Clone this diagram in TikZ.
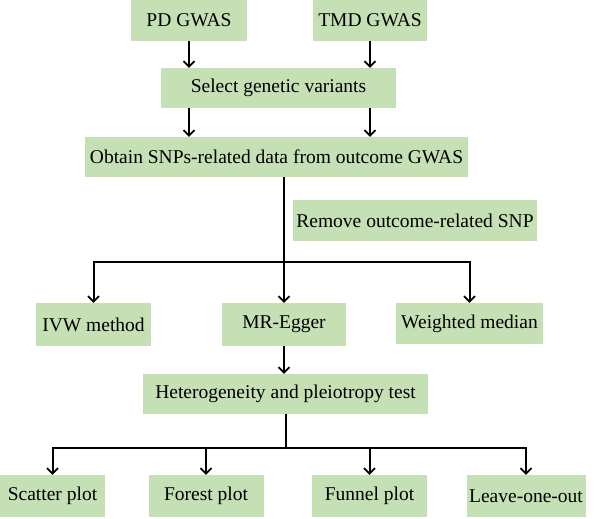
\documentclass[tikz,border=0pt]{standalone}
\usepackage{fontspec}
\setmainfont{Liberation Serif}
\usetikzlibrary{arrows.meta}
\definecolor{boxgreen}{RGB}{197,224,180}
\begin{document}
\begin{tikzpicture}[x=1pt,y=-1pt,
  box/.style={fill=boxgreen,draw=none,inner sep=0pt,align=center,
    font=\rmfamily\fontsize{19.5}{22}\selectfont},
  conn/.style={line width=2pt,black},
  arr/.style={conn,-{Straight Barb[length=5.5pt,width=11pt,line width=1.8pt]}}]
\useasboundingbox (0,0) rectangle (595,519);
\node[box,minimum width=116pt,minimum height=41pt] (pd) at (189,20.5) {PD GWAS};
\node[box,minimum width=114pt,minimum height=41pt] (tmd) at (370,20.5) {TMD GWAS};
\node[box,minimum width=235pt,minimum height=40pt] (sel) at (278.5,88) {Select genetic variants};
\node[box,minimum width=383pt,minimum height=40pt] (obt) at (276.5,157) {Obtain SNPs-related data from outcome GWAS};
\node[box,minimum width=244pt,minimum height=41pt] (rem) at (415,220.5) {Remove outcome-related SNP};
\node[box,minimum width=115pt,minimum height=43pt] (ivw) at (93.5,324.5) {IVW method};
\node[box,minimum width=124pt,minimum height=43pt] (mre) at (284,324.5) {MR-Egger};
\node[box,minimum width=147pt,minimum height=41pt] (wm) at (469.5,323.5) {Weighted median};
\node[box,minimum width=285pt,minimum height=40pt] (het) at (285.5,394) {Heterogeneity and pleiotropy test};
\node[box,minimum width=105pt,minimum height=42pt] (sc) at (52.5,496) {Scatter plot};
\node[box,minimum width=115pt,minimum height=42pt] (fo) at (206,496) {Forest plot};
\node[box,minimum width=115pt,minimum height=42pt] (fu) at (369.5,496) {Funnel plot};
\node[box,minimum width=119pt,minimum height=42pt] (lo) at (526,496) {Leave-one-out};
% top arrows
\draw[arr] (pd.south) -- (sel.north -| pd);
\draw[arr] (tmd.south) -- (sel.north -| tmd);
\draw[arr] (sel.south -| pd) -- (obt.north -| pd);
\draw[arr] (sel.south -| tmd) -- (obt.north -| tmd);
% middle split
\coordinate (j1) at (284,262);
\draw[arr] (obt.south -| mre) -- (mre.north);
\draw[arr] (j1) -| (ivw.north);
\draw[arr] (j1) -| (wm.north);
\draw[arr] (mre.south) -- (het.north -| mre);
% bottom split
\coordinate (j2) at (het.south |- 0,448);
\draw[conn] (het.south) -- (j2);
\draw[arr] (j2) -| (sc.north);
\draw[arr] (j2) -| (fo.north);
\draw[arr] (j2) -| (fu.north);
\draw[arr] (j2) -| (lo.north);
\end{tikzpicture}
\end{document}
